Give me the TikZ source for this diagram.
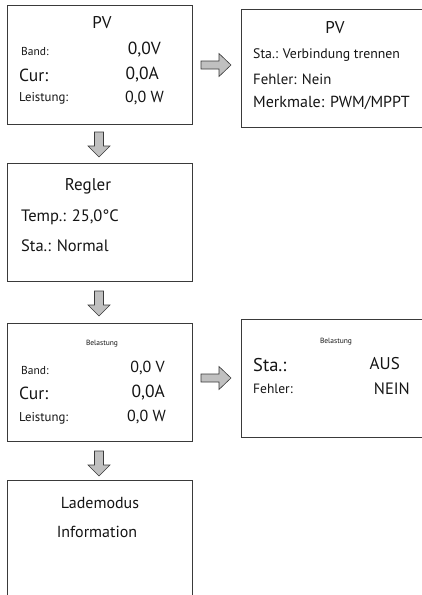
\documentclass[tikz,border=0pt]{standalone}
\usepackage{fontspec}
\setmainfont{PT Sans}
\newcommand{\fs}[1]{\fontsize{#1}{#1}\selectfont}
\definecolor{arrfill}{HTML}{C0C0C0}
\definecolor{edge}{HTML}{3A3A3A}
\tikzset{
  panel/.style={draw=edge, line width=0.9pt, rectangle, inner sep=0pt, anchor=north west},
  lt/.style={anchor=west, inner sep=0pt, text=black!92},
  rt/.style={anchor=east, inner sep=0pt, text=black!92},
  ct/.style={anchor=center, inner sep=0pt, text=black!92},
  blockarrow/.style={draw=edge, fill=arrfill, line width=0.6pt, line join=miter},
}
\begin{document}
\begin{tikzpicture}[x=1pt,y=-1pt]
\useasboundingbox (0,0) rectangle (422,595);
\clip (0,0) rectangle (422,595);
% boxes
\node[panel, minimum width=185pt, minimum height=119pt] (b1) at (7,5) {};
\node[panel, minimum width=181pt, minimum height=118pt] (b2) at (241,9) {};
\node[panel, minimum width=185pt, minimum height=118pt] (b3) at (7,163) {};
\node[panel, minimum width=185pt, minimum height=118pt] (b4) at (7,323) {};
\node[panel, minimum width=181pt, minimum height=118pt] (b5) at (241,319) {};
\node[panel, minimum width=185pt, minimum height=130pt] (b6) at (7,480) {};
% arrows (start points)
\coordinate (a1) at (99,132);
\coordinate (a2) at (99,291);
\coordinate (a3) at (99,451);
\coordinate (r1) at (201,65);
\coordinate (r2) at (201,378);
\foreach \p in {a1,a2,a3}{
  \draw[blockarrow] (\p) ++(-4.5,0) -- ++(0,14) -- ++(-6.5,0) -- ++(11,11)
    -- ++(11,-11) -- ++(-6.5,0) -- ++(0,-14) -- cycle;
}
\foreach \p in {r1,r2}{
  \draw[blockarrow] (\p) ++(0,-4) -- ++(18,0) -- ++(0,-7.5) -- ++(12,11.5)
    -- ++(-12,11.5) -- ++(0,-7.5) -- ++(-18,0) -- cycle;
}
% box 1
\node[ct] (t1) at (102,23) {\fs{17}PV};
\node[lt] (t2) at (21,51.5) {\fs{11.5}Band:};
\node[rt] (t3) at (161,50) {\fs{17.5}0,0V};
\node[lt] (t4) at (19,75) {\fs{17.5}Cur:};
\node[rt] (t5) at (159,75) {\fs{17.5}0,0A};
\node[lt] (t6) at (19,98.5) {\fs{12.8}Leistung:};
\node[rt] (t7) at (164,97.5) {\fs{16}0,0 W};
% box 2
\node[ct] (u1) at (335,28) {\fs{17}PV};
\node[lt] (u2) at (253,55) {\fs{13.8}Sta.: Verbindung trennen};
\node[lt] (u3) at (253,79) {\fs{14.8}Fehler: Nein};
\node[lt] (u4) at (253,103) {\fs{16}Merkmale: PWM/MPPT};
% box 3
\node[ct] (v1) at (88,186) {\fs{17}Regler};
\node[lt] (v2) at (21,217) {\fs{16.5}Temp.: 25,0°C};
\node[lt] (v3) at (21,246) {\fs{16.5}Sta.: Normal};
% box 4
\node[ct] (w1) at (102,344) {\fs{7.5}Belastung};
\node[lt] (w2) at (21,370) {\fs{11.5}Band:};
\node[rt] (w3) at (165,368) {\fs{16}0,0 V};
\node[lt] (w4) at (19,393) {\fs{17.5}Cur:};
\node[rt] (w5) at (165,393) {\fs{17.5}0,0A};
\node[lt] (w6) at (19,418) {\fs{12.8}Leistung:};
\node[rt] (w7) at (166,417) {\fs{16}0,0 W};
% box 5
\node[ct] (x1) at (336,342) {\fs{7.5}Belastung};
\node[lt] (x2) at (253,365) {\fs{18.5}Sta.:};
\node[rt] (x3) at (400,364) {\fs{17}AUS};
\node[lt] (x4) at (253,389) {\fs{13.5}Fehler:};
\node[rt] (x5) at (410,389) {\fs{16.5}NEIN};
% box 6
\node[ct] (y1) at (100,503) {\fs{16}Lademodus};
\node[ct] (y2) at (97,532) {\fs{16}Information};
\end{tikzpicture}
\end{document}
